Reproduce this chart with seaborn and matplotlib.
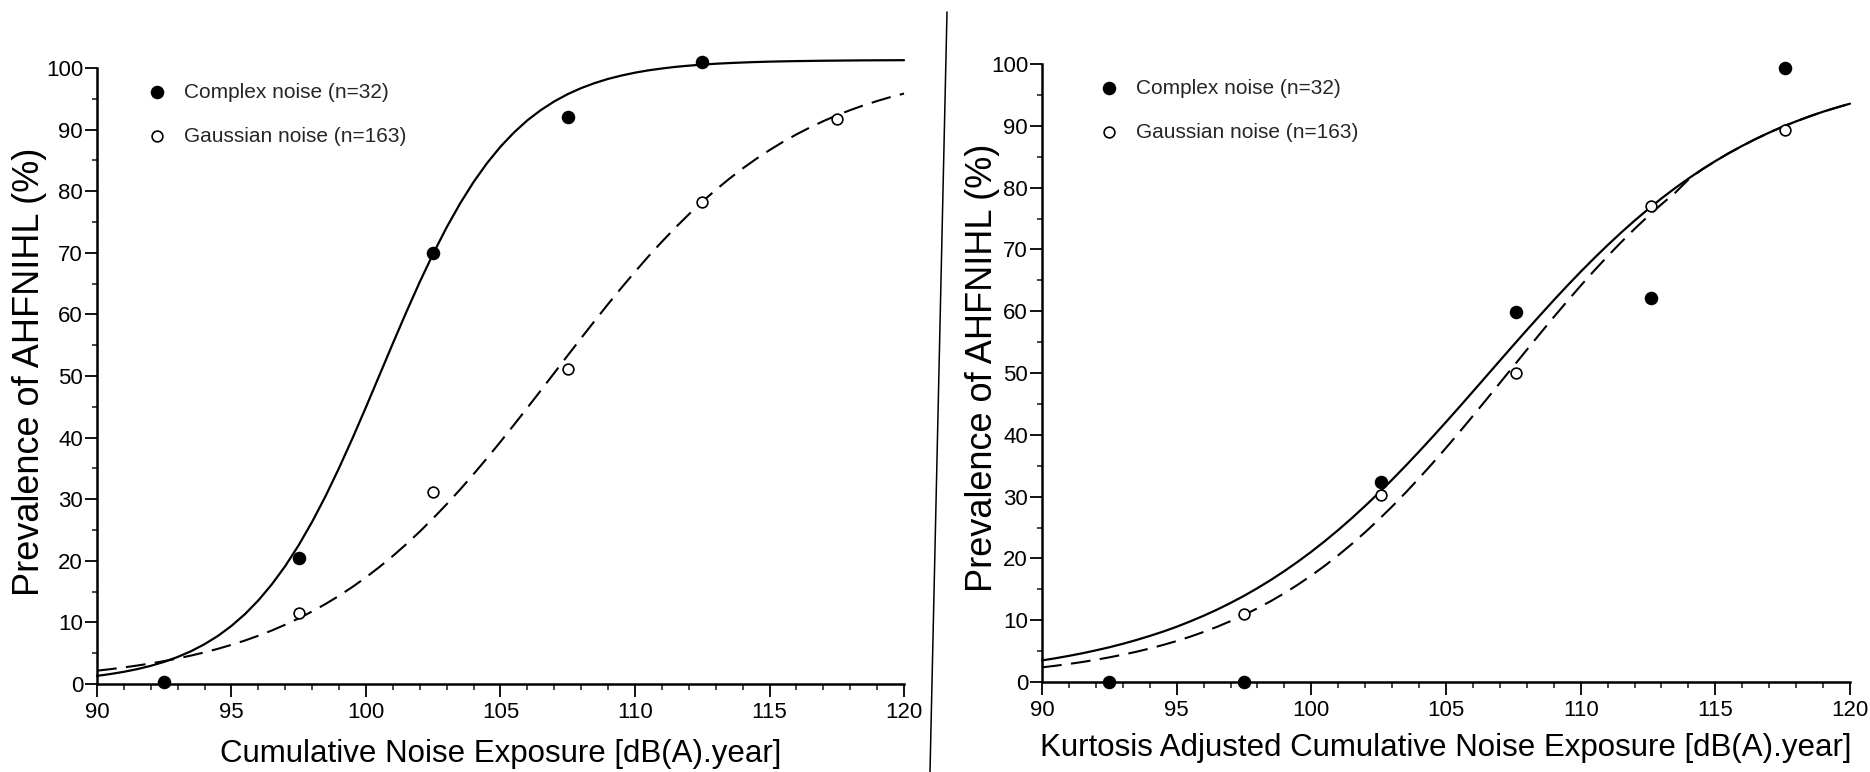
import numpy as np
import pandas as pd
import matplotlib
matplotlib.use("Agg")
import matplotlib.pyplot as plt
import seaborn as sns
from matplotlib.lines import Line2D
from matplotlib.ticker import MultipleLocator
from matplotlib import font_manager as fm

# ---------------- data ----------------
# fitted curves, read every 0.5 dB(A).year from 90 to 120
curve_x = list(np.arange(90, 120.01, 0.5))

# left panel: Cumulative Noise Exposure
left_complex_x = [92.5, 97.5, 102.5, 107.5, 112.5]
left_complex_y = [0.3, 20.5, 70.0, 92.0, 101.0]
left_gauss_x = [97.5, 102.5, 107.5, 112.5, 117.5]
left_gauss_y = [11.5, 31.2, 51.1, 78.2, 91.7]
left_solid = [1.32, 1.62, 1.98, 2.42, 2.95, 3.60, 4.39, 5.33, 6.47, 7.82,
              9.44, 11.34, 13.58, 16.18, 19.16, 22.55, 26.35, 30.53, 35.08, 39.91,
              44.96, 50.13, 55.31, 60.39, 65.28, 69.88, 74.15, 78.02, 81.50, 84.56,
              87.23, 89.53, 91.51, 93.17, 94.58, 95.76, 96.74, 97.55, 98.23, 98.78,
              99.24, 99.62, 99.92, 100.18, 100.38, 100.55, 100.69, 100.80, 100.89, 100.97,
              101.03, 101.08, 101.12, 101.15, 101.18, 101.20, 101.22, 101.24, 101.25, 101.26,
              101.27]
left_dashed = [2.16, 2.41, 2.69, 3.00, 3.34, 3.72, 4.15, 4.62, 5.14, 5.72,
               6.36, 7.06, 7.84, 8.69, 9.63, 10.66, 11.78, 13.00, 14.33, 15.77,
               17.32, 19.00, 20.79, 22.71, 24.75, 26.92, 29.19, 31.58, 34.08, 36.66,
               39.33, 42.07, 44.85, 47.66, 50.50, 53.34, 56.16, 58.94, 61.68, 64.34,
               66.92, 69.42, 71.80, 74.08, 76.24, 78.29, 80.21, 82.00, 83.68, 85.23,
               86.67, 88.00, 89.22, 90.34, 91.37, 92.31, 93.16, 93.94, 94.64, 95.28,
               95.85]

# right panel: Kurtosis Adjusted Cumulative Noise Exposure
right_complex_x = [92.5, 97.5, 102.6, 107.6, 112.6, 117.6]
right_complex_y = [0.0, 0.0, 32.4, 59.8, 62.1, 99.3]
right_gauss_x = [97.5, 102.6, 107.6, 112.6, 117.6]
right_gauss_y = [11.0, 30.3, 50.0, 77.1, 89.4]
right_solid = [3.49, 3.84, 4.23, 4.65, 5.12, 5.62, 6.18, 6.79, 7.45, 8.16,
               8.94, 9.80, 10.72, 11.71, 12.79, 13.94, 15.19, 16.52, 17.95, 19.47,
               21.08, 22.79, 24.60, 26.50, 28.50, 30.58, 32.74, 34.98, 37.29, 39.65,
               42.07, 44.52, 47.00, 49.50, 52.00, 54.49, 56.95, 59.38, 61.78, 64.11,
               66.38, 68.57, 70.68, 72.71, 74.65, 76.49, 78.25, 79.90, 81.46, 82.92,
               84.29, 85.57, 86.76, 87.87, 88.90, 89.85, 90.72, 91.53, 92.28, 92.95,
               93.58]
right_dashed = [2.37, 2.63, 2.92, 3.24, 3.59, 3.99, 4.42, 4.89, 5.42, 6.00,
                6.63, 7.33, 8.10, 8.93, 9.85, 10.84, 11.93, 13.10, 14.37, 15.75,
                17.23, 18.81, 20.51, 22.32, 24.24, 26.27, 28.40, 30.64, 32.97, 35.39,
                37.88, 40.44, 43.06, 45.71, 48.39, 51.07, 53.75, 56.41, 59.04, 61.61,
                64.12, 66.55, 68.90, 71.15, 73.31, 75.36, 77.30, 79.13, 81.30, 82.92,
                84.29, 85.57, 86.76, 87.87, 88.90, 89.85, 90.72, 91.53, 92.28, 92.95,
                93.58]

label_complex = "Complex noise (n=32)"
label_gauss = "Gaussian noise (n=163)"
ylabel = "Prevalence of AHFNIHL (%)"
xlabel_left = "Cumulative Noise Exposure [dB(A).year]"
xlabel_right = "Kurtosis Adjusted Cumulative Noise Exposure [dB(A).year]"

# ---------------- style ----------------
sns.set_theme(style="ticks")
plt.rcParams["font.family"] = ["Liberation Sans", "DejaVu Sans"]
names = {f.name for f in fm.fontManager.ttflist}
has_narrow = "Liberation Sans Narrow" in names
xlab_font = dict(family=["Liberation Sans Narrow", "Liberation Sans", "DejaVu Sans"],
                 size=27) if has_narrow else dict(family=["Liberation Sans", "DejaVu Sans"], size=22.5)

fig = plt.figure(figsize=(18.7, 7.72), dpi=100)
fig.patch.set_facecolor("white")
W, H = 1870, 772


def ax_rect(x0, x1, ytop, ybot):
    return [x0 / W, 1 - ybot / H, (x1 - x0) / W, (ybot - ytop) / H]


ax1 = fig.add_axes(ax_rect(97, 904, 68, 684))
ax2 = fig.add_axes(ax_rect(1042, 1850, 64, 682))


def draw(ax, solid, dashed, cx, cy, gx, gy, xlabel, leg_xy, ylab_xy, xlab_y):
    df = pd.DataFrame({"x": curve_x, "solid": solid, "dashed": dashed})
    sns.lineplot(data=df, x="x", y="solid", ax=ax, color="black", lw=1.6,
                 estimator=None, legend=False, clip_on=False, zorder=3)
    sns.lineplot(data=df, x="x", y="dashed", ax=ax, color="black", lw=1.5,
                 estimator=None, legend=False, clip_on=False, zorder=3)
    ax.lines[-1].set_dashes((9.5, 4.5))
    dc = pd.DataFrame({"x": cx, "y": cy})
    dg = pd.DataFrame({"x": gx, "y": gy})
    sns.scatterplot(data=dc, x="x", y="y", ax=ax, s=95, color="black",
                    edgecolor="black", linewidth=0, marker="o",
                    label=label_complex, clip_on=False, zorder=5)
    sns.scatterplot(data=dg, x="x", y="y", ax=ax, s=60, facecolor="white",
                    edgecolor="black", linewidth=1.2, marker="o",
                    label=label_gauss, clip_on=False, zorder=6)
    ax.set_xlim(90, 120)
    ax.set_ylim(0, 100)
    ax.xaxis.set_major_locator(MultipleLocator(5))
    ax.xaxis.set_minor_locator(MultipleLocator(1))
    ax.yaxis.set_major_locator(MultipleLocator(10))
    ax.yaxis.set_minor_locator(MultipleLocator(5))
    for side in ("top", "right"):
        ax.spines[side].set_visible(False)
    for side in ("left", "bottom"):
        ax.spines[side].set_linewidth(1.8)
        ax.spines[side].set_color("black")
    ax.tick_params(which="major", length=9, width=1.3, direction="out",
                   labelsize=16, colors="black")
    ax.tick_params(axis="x", which="major", pad=4)
    ax.tick_params(axis="y", which="major", pad=1)
    ax.tick_params(axis="x", which="minor", length=4.5, width=1.2, direction="out")
    ax.tick_params(axis="y", which="minor", length=3.5, width=1.2, direction="out")
    ax.set_ylabel(ylabel, fontsize=26, color="black")
    ax.yaxis.set_label_coords(*ylab_xy)
    ax.set_xlabel(xlabel, color="black", **xlab_font)
    ax.xaxis.set_label_coords(0.5, xlab_y)
    ax.legend(loc="upper left", bbox_to_anchor=leg_xy, frameon=False,
              fontsize=15, handlelength=1.0, handletextpad=0.8,
              labelspacing=1.2, borderpad=0, borderaxespad=0)
    ax.set_facecolor("white")


draw(ax1, left_solid, left_dashed, left_complex_x, left_complex_y,
     left_gauss_x, left_gauss_y, xlabel_left,
     leg_xy=(0.0615, 0.976), ylab_xy=(-0.062, 0.506), xlab_y=-0.090)
draw(ax2, right_solid, right_dashed, right_complex_x, right_complex_y,
     right_gauss_x, right_gauss_y, xlabel_right,
     leg_xy=(0.070, 0.976), ylab_xy=(-0.052, 0.508), xlab_y=-0.082)

# separator line between the two panels (as in the scanned figure)
fig.add_artist(Line2D([947 / W, 930 / W], [1 - 12 / H, 0.0], color="black", lw=1.1))

fig.savefig("out.png", dpi=100, facecolor="white")
